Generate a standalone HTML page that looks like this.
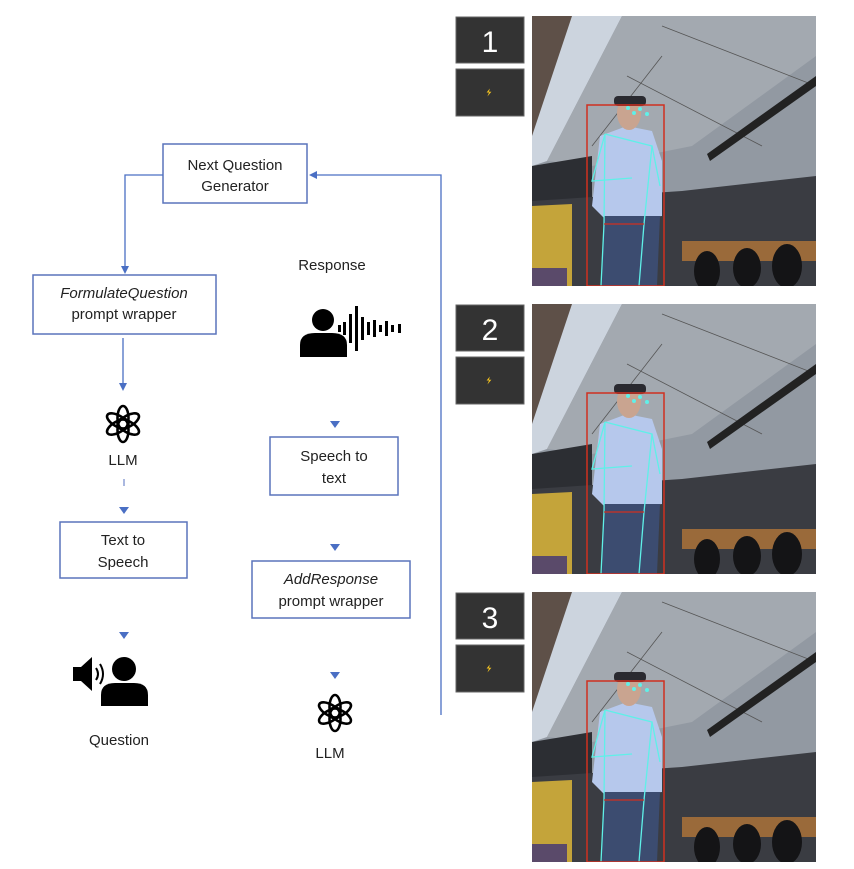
<!DOCTYPE html>
<html><head><meta charset="utf-8"><style>
html,body{margin:0;padding:0;background:#fff;}
body{width:854px;height:864px;overflow:hidden;position:relative;font-family:"Liberation Sans",sans-serif;}
text{font-family:"Liberation Sans",sans-serif;font-size:15px;fill:#222;}
</style></head><body>
<svg width="854" height="864" viewBox="0 0 854 864" xmlns="http://www.w3.org/2000/svg">
<defs>
<marker id="ar" markerWidth="8" markerHeight="8" refX="4" refY="4" orient="auto" markerUnits="userSpaceOnUse">
<path d="M0,0 L8,4 L0,8 z" fill="#4a6fc4"/></marker>
<symbol id="gpt" viewBox="-20 -20 40 40">
<g fill="none" stroke="#000" stroke-width="2.6">
<ellipse cx="0" cy="-6" rx="5.5" ry="12" transform="rotate(0)"/>
<ellipse cx="0" cy="-6" rx="5.5" ry="12" transform="rotate(60)"/>
<ellipse cx="0" cy="-6" rx="5.5" ry="12" transform="rotate(120)"/>
<ellipse cx="0" cy="-6" rx="5.5" ry="12" transform="rotate(180)"/>
<ellipse cx="0" cy="-6" rx="5.5" ry="12" transform="rotate(240)"/>
<ellipse cx="0" cy="-6" rx="5.5" ry="12" transform="rotate(300)"/>
</g></symbol>
<symbol id="scene" viewBox="0 0 284 270">
<rect width="284" height="270" fill="#9299a2"/>
<polygon points="0,0 45,0 0,150" fill="#5e5048"/>
<polygon points="40,0 90,0 15,145 0,150 0,120" fill="#ccd4de"/>
<polygon points="90,0 284,0 284,40 160,130 60,150 15,145" fill="#a3a9b0"/>
<g stroke="#555" stroke-width="0.8" fill="none">
<line x1="130" y1="10" x2="284" y2="70"/>
<line x1="95" y1="60" x2="230" y2="130"/>
<line x1="60" y1="130" x2="130" y2="40"/>
</g>
<polygon points="0,150 60,140 60,190 0,200" fill="#2c2e33"/>
<polygon points="175,138 284,60 284,70 178,145" fill="#222"/>
<polygon points="0,185 150,175 284,160 284,270 0,270" fill="#3a3c42"/>
<polygon points="0,190 40,188 40,270 0,270" fill="#c4a43a"/>
<rect x="0" y="252" width="35" height="18" fill="#5a4a6a"/>
<rect x="150" y="225" width="134" height="20" fill="#9a6a3a"/>
<ellipse cx="175" cy="255" rx="13" ry="20" fill="#141416"/>
<ellipse cx="215" cy="252" rx="14" ry="20" fill="#141416"/>
<ellipse cx="255" cy="250" rx="15" ry="22" fill="#141416"/>
<polygon points="68,120 95,110 120,115 130,145 130,200 75,205 60,190" fill="#b6c8ec"/>
<ellipse cx="97" cy="97" rx="12" ry="17" fill="#c9a490"/>
<rect x="82" y="80" width="32" height="10" rx="4" fill="#2a2a30"/>
<polygon points="72,200 128,200 125,270 70,270" fill="#3c4c70"/>
<g stroke="#5ff0e8" stroke-width="1.3" fill="none">
<polyline points="73,118 120,130 112,208 107,270"/>
<polyline points="73,118 72,208 69,270"/>
<polyline points="73,118 60,165 100,162"/>
<polyline points="120,130 128,170"/>
</g>
<line x1="72" y1="208" x2="112" y2="208" stroke="#d03020" stroke-width="1.3"/>
<rect x="55" y="89" width="77" height="181" fill="none" stroke="#d03020" stroke-width="1.5"/>
<g fill="#5ff0e8"><circle cx="96" cy="92" r="2"/><circle cx="108" cy="93" r="2"/><circle cx="115" cy="98" r="2"/><circle cx="102" cy="97" r="2"/></g>
</symbol>
<symbol id="bolt" viewBox="0 0 10 10"><path d="M6,0 L2,5 L5,5 L3,10 L8,4 L5,4 z" fill="#f0c020"/></symbol>
</defs>

<g>
<rect x="456" y="17" width="68" height="46" fill="#333" stroke="#666"/>
<text x="490" y="52" text-anchor="middle" style="font-size:30px;fill:#fff">1</text>
<rect x="456" y="69" width="68" height="47" fill="#333" stroke="#666"/>
<use href="#bolt" x="485" y="88" width="8" height="9"/>
<use href="#scene" x="532" y="16" width="284" height="270"/>

<rect x="456" y="305" width="68" height="46" fill="#333" stroke="#666"/>
<text x="490" y="340" text-anchor="middle" style="font-size:30px;fill:#fff">2</text>
<rect x="456" y="357" width="68" height="47" fill="#333" stroke="#666"/>
<use href="#bolt" x="485" y="376" width="8" height="9"/>
<use href="#scene" x="532" y="304" width="284" height="270"/>

<rect x="456" y="593" width="68" height="46" fill="#333" stroke="#666"/>
<text x="490" y="628" text-anchor="middle" style="font-size:30px;fill:#fff">3</text>
<rect x="456" y="645" width="68" height="47" fill="#333" stroke="#666"/>
<use href="#bolt" x="485" y="664" width="8" height="9"/>
<use href="#scene" x="532" y="592" width="284" height="270"/>
</g>

<g fill="#fff" stroke="#5a74bc" stroke-width="1.5">
<rect x="163" y="144" width="144" height="59"/>
<rect x="33" y="275" width="183" height="59"/>
<rect x="60" y="522" width="127" height="56"/>
<rect x="270" y="437" width="128" height="58"/>
<rect x="252" y="561" width="158" height="57"/>
</g>
<g stroke="#4a6fc4" stroke-width="1.3" fill="none">
<polyline points="163,175 125,175 125,270" marker-end="url(#ar)"/>
<line x1="123" y1="338" x2="123" y2="387" marker-end="url(#ar)"/>
<polyline points="441,715 441,175 313,175" marker-end="url(#ar)"/>
<line x1="124" y1="479" x2="124" y2="486" stroke="#aab8e0" stroke-width="2"/>
</g>
<g fill="#4a6fc4">
<path d="M119,507 L129,507 L124,514 z"/>
<path d="M119,632 L129,632 L124,639 z"/>
<path d="M330,421 L340,421 L335,428 z"/>
<path d="M330,544 L340,544 L335,551 z"/>
<path d="M330,672 L340,672 L335,679 z"/>
</g>
<use href="#gpt" x="103" y="404" width="40" height="40"/>
<use href="#gpt" x="315" y="693" width="40" height="40"/>

<text x="235" y="170" text-anchor="middle">Next Question</text>
<text x="235" y="191" text-anchor="middle">Generator</text>
<text x="124" y="298" text-anchor="middle" font-style="italic">FormulateQuestion</text>
<text x="124" y="319" text-anchor="middle">prompt wrapper</text>
<text x="123" y="465" text-anchor="middle">LLM</text>
<text x="123" y="545" text-anchor="middle">Text to</text>
<text x="123" y="567" text-anchor="middle">Speech</text>
<text x="119" y="745" text-anchor="middle">Question</text>
<text x="332" y="270" text-anchor="middle">Response</text>
<text x="334" y="461" text-anchor="middle">Speech to</text>
<text x="334" y="483" text-anchor="middle">text</text>
<text x="331" y="584" text-anchor="middle" font-style="italic">AddResponse</text>
<text x="331" y="606" text-anchor="middle">prompt wrapper</text>
<text x="330" y="758" text-anchor="middle">LLM</text>

<g fill="#000">
<circle cx="323" cy="320" r="11"/>
<path d="M300,357 L300,345 Q300,333 315,333 L332,333 Q347,333 347,345 L347,357 z"/>
<rect x="338" y="325" width="3" height="7"/>
<rect x="343" y="322" width="3" height="13"/>
<rect x="349" y="314" width="3" height="29"/>
<rect x="355" y="306" width="3" height="45"/>
<rect x="361" y="317" width="3" height="23"/>
<rect x="367" y="322" width="3" height="13"/>
<rect x="373" y="320" width="3" height="17"/>
<rect x="379" y="325" width="3" height="7"/>
<rect x="385" y="321" width="3" height="15"/>
<rect x="391" y="325" width="3" height="7"/>
<rect x="398" y="324" width="3" height="9"/>
</g>
<g fill="#000">
<rect x="73" y="667" width="8" height="14"/>
<path d="M81,667 L92,657 L92,691 L81,681 z"/>
<path d="M96,668 Q100,674 96,680" stroke="#000" stroke-width="2" fill="none"/>
<path d="M100,664 Q106,674 100,684" stroke="#000" stroke-width="2" fill="none"/>
<circle cx="124" cy="669" r="12"/>
<path d="M101,706 L101,695 Q101,683 115,683 L134,683 Q148,683 148,695 L148,706 z"/>
</g>
</svg>
</body></html>
